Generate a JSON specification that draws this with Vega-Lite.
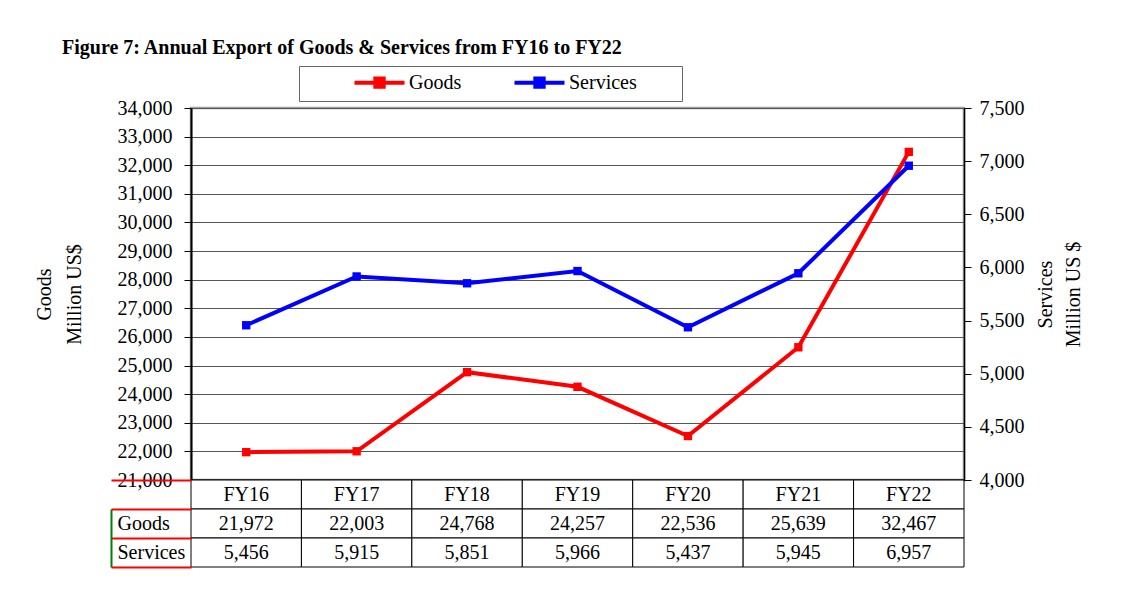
{
  "$schema": "https://vega.github.io/schema/vega-lite/v6.json",
  "padding": {"left": 32, "top": 38, "right": 5, "bottom": 5},
  "background": "white",
  "config": {"font": "Liberation Serif", "view": {"stroke": null}},
  "title": {"text": "Figure 7: Annual Export of Goods & Services from FY16 to FY22", "anchor": "start", "frame": "group", "font": "Liberation Serif", "fontSize": 20, "fontWeight": "bold", "color": "black", "dx": -129, "offset": 6},
  "data": {"values": [
    {"year": "FY16", "Goods": 21972, "Services": 5456},
    {"year": "FY17", "Goods": 22003, "Services": 5915},
    {"year": "FY18", "Goods": 24768, "Services": 5851},
    {"year": "FY19", "Goods": 24257, "Services": 5966},
    {"year": "FY20", "Goods": 22536, "Services": 5437},
    {"year": "FY21", "Goods": 25639, "Services": 5945},
    {"year": "FY22", "Goods": 32467, "Services": 6957}
  ]},
  "vconcat": [
    {
      "width": 773,
      "height": 372,
      "view": {"stroke": "#a0a0a0", "strokeWidth": 2.5},
      "encoding": {
        "x": {"field": "year", "type": "nominal", "sort": null, "scale": {"type": "point", "padding": 0.5},
          "axis": {"labels": false, "ticks": false, "title": null, "domainColor": "black", "domainWidth": 2, "grid": false}}
      },
      "layer": [
        {
          "mark": {"type": "line", "strokeWidth": 4, "point": {"shape": "square", "size": 70, "filled": true, "opacity": 1}},
          "encoding": {
            "y": {"field": "Goods", "type": "quantitative",
              "scale": {"domain": [21000, 34000], "nice": false, "zero": false},
              "axis": {"values": [21000, 22000, 23000, 24000, 25000, 26000, 27000, 28000, 29000, 30000, 31000, 32000, 33000, 34000],
                "format": ",.0f", "labelFontSize": 20, "labelColor": "black", "labelFont": "Liberation Serif", "labelPadding": 12,
                "tickColor": "black", "tickSize": 7, "domainColor": "black", "domainWidth": 2,
                "grid": true, "gridColor": "#555555", "gridWidth": 1.2,
                "encode": {"grid": {"update": {"stroke": {"signal": "datum.value % 2000 === 0 ? '#aaaaaa' : '#555555'"}}}},
                "title": ["Goods", "Million US$"], "titleFont": "Liberation Serif", "titleFontSize": 20, "titleFontWeight": "normal", "titleColor": "black", "titleLineHeight": 30, "titlePadding": 33}},
            "color": {"datum": "Goods", "type": "nominal",
              "scale": {"domain": ["Goods", "Services"], "range": ["#ff0000", "#0000ff"]},
              "legend": {"orient": "none", "legendX": 108, "legendY": -42, "direction": "horizontal",
                "title": "\u00a0", "titleOrient": "right", "titlePadding": 39, "titleFontSize": 20,
                "labelFont": "Liberation Serif", "labelFontSize": 20, "labelColor": "black", "labelOffset": 19,
                "symbolType": "M-3,0H3M-0.5,-0.5H0.5V0.5H-0.5Z", "symbolSize": 278, "symbolStrokeWidth": 4,
                "strokeColor": "#666666", "fillColor": "white", "padding": 6, "columnPadding": 3, "symbolOffset": 64,
                "encode": {"symbols": {"update": {"fill": {"scale": "color", "field": "value"}, "stroke": {"scale": "color", "field": "value"}}}}}}
          }
        },
        {
          "mark": {"type": "line", "strokeWidth": 4, "point": {"shape": "square", "size": 70, "filled": true, "opacity": 1}},
          "encoding": {
            "y": {"field": "Services", "type": "quantitative",
              "scale": {"domain": [4000, 7500], "nice": false, "zero": false},
              "axis": {"orient": "right", "values": [4000, 4500, 5000, 5500, 6000, 6500, 7000, 7500],
                "format": ",.0f", "labelFontSize": 20, "labelColor": "black", "labelFont": "Liberation Serif", "labelPadding": 8,
                "tickColor": "black", "tickSize": 7, "domainColor": "black", "domainWidth": 1.5, "grid": false,
                "title": ["Services", "Million US $"], "titleFont": "Liberation Serif", "titleFontSize": 20, "titleFontWeight": "normal", "titleColor": "black", "titleLineHeight": 28, "titleAngle": 270, "titlePadding": 3}},
            "color": {"datum": "Services", "type": "nominal"}
          }
        }
      ],
      "resolve": {"scale": {"y": "independent"}}
    },
    {
      "width": 773,
      "height": 87,
      "transform": [{"fold": ["year", "Goods", "Services"], "as": ["row", "val"]}],
      "encoding": {
        "x": {"field": "year", "type": "nominal", "sort": null, "scale": {"type": "band", "paddingInner": 0, "paddingOuter": 0}, "axis": null},
        "y": {"field": "row", "type": "nominal", "scale": {"domain": ["year", "Goods", "Services"], "paddingInner": 0, "paddingOuter": 0},
          "axis": {"title": null, "orient": "left", "offset": 80, "tickSize": -80, "tickBand": "extent", "tickWidth": 2, "tickColor": "red",
            "labelExpr": "datum.value === 'year' ? '' : datum.value", "labelAlign": "left", "labelPadding": 74,
            "labelFont": "Liberation Serif", "labelFontSize": 20, "labelColor": "black",
            "domainColor": "green", "domainWidth": 2, "domainDash": [0, 29, 60]}}
      },
      "layer": [
        {
          "mark": {"type": "rect", "fill": "white", "stroke": "black", "strokeWidth": 1}
        },
        {
          "mark": {"type": "text", "font": "Liberation Serif", "fontSize": 20, "color": "black"},
          "encoding": {"text": {"condition": {"test": "datum.row === 'year'", "field": "val", "type": "nominal"}, "field": "val", "type": "quantitative", "format": ","}}
        }
      ]
    }
  ],
  "spacing": 0,
  "bounds": "flush",
  "resolve": {"legend": {"color": "independent"}, "scale": {"color": "independent", "x": "independent"}}
}
